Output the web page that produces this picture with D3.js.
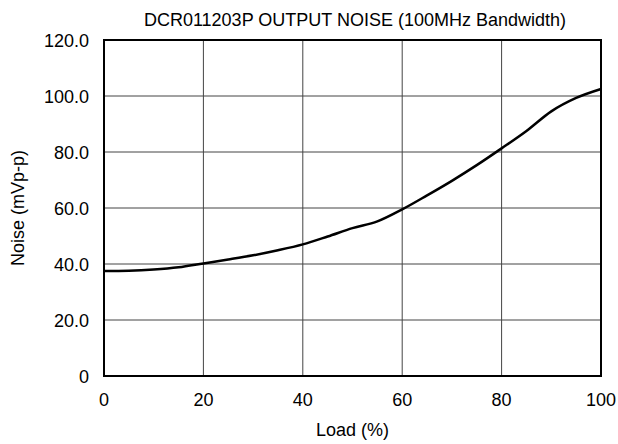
<!DOCTYPE html>
<html><head><meta charset="utf-8">
<script src="https://cdn.jsdelivr.net/npm/d3@7"></script>
<style>body{margin:0;background:#fff}svg{display:block}text{font-family:"Liberation Sans",Arial,sans-serif;fill:#000}</style>
</head><body>
<svg id="c" width="618" height="444"></svg>
<script>
const load = [0,5,10,15,20,25,30,35,40,45,50,55,60,65,70,75,80,85,90,95,100];
const noise = [37.5,37.6,38.0,38.8,40.2,41.6,43.1,44.9,47.0,49.8,52.8,55.2,59.5,64.5,69.7,75.3,81.3,87.5,94.5,99.3,102.5];
const xTicks = [0,20,40,60,80,100];
const yTicks = [0,20,40,60,80,100,120];
const yTickLabels = ["0","20.0","40.0","60.0","80.0","100.0","120.0"];
const title = "DCR011203P OUTPUT NOISE (100MHz Bandwidth)";
const xTitle = "Load (%)";
const yTitle = "Noise (mVp-p)";

const L=104,R=601,T=40,B=376;
const svg=d3.select("#c");
const x=d3.scaleLinear().domain([0,100]).range([L,R]);
const y=d3.scaleLinear().domain([0,120]).range([B,T]);

svg.append("g").selectAll("line.v").data(xTicks).join("line")
 .attr("x1",d=>x(d)).attr("x2",d=>x(d)).attr("y1",T).attr("y2",B)
 .attr("stroke","#444").attr("stroke-width",1);
svg.append("g").selectAll("line.h").data(yTicks).join("line")
 .attr("x1",L).attr("x2",R).attr("y1",d=>y(d)).attr("y2",d=>y(d))
 .attr("stroke","#444").attr("stroke-width",1);

svg.append("rect").attr("x",L).attr("y",T).attr("width",R-L).attr("height",B-T)
 .attr("fill","none").attr("stroke","#000").attr("stroke-width",2);

const line=d3.line().x((d,i)=>x(load[i])).y(d=>y(d)).curve(d3.curveMonotoneX);
svg.append("path").datum(noise).attr("d",line).attr("fill","none")
 .attr("stroke","#000").attr("stroke-width",2.5);

svg.append("g").selectAll("text").data(xTicks).join("text")
 .attr("x",d=>x(d)).attr("y",406).attr("text-anchor","middle").attr("font-size",18).text(d=>d);
svg.append("g").selectAll("text").data(yTicks).join("text")
 .attr("x",89).attr("y",d=>y(d)+6.5).attr("text-anchor","end").attr("font-size",18).text((d,i)=>yTickLabels[i]);

svg.append("text").attr("x",355).attr("y",26).attr("text-anchor","middle").attr("font-size",18).text(title);
svg.append("text").attr("x",(L+R)/2).attr("y",436).attr("text-anchor","middle").attr("font-size",18).text(xTitle);
svg.append("text").attr("transform",`translate(24,${(T+B)/2}) rotate(-90)`).attr("text-anchor","middle").attr("font-size",18).text(yTitle);
</script>
</body></html>
